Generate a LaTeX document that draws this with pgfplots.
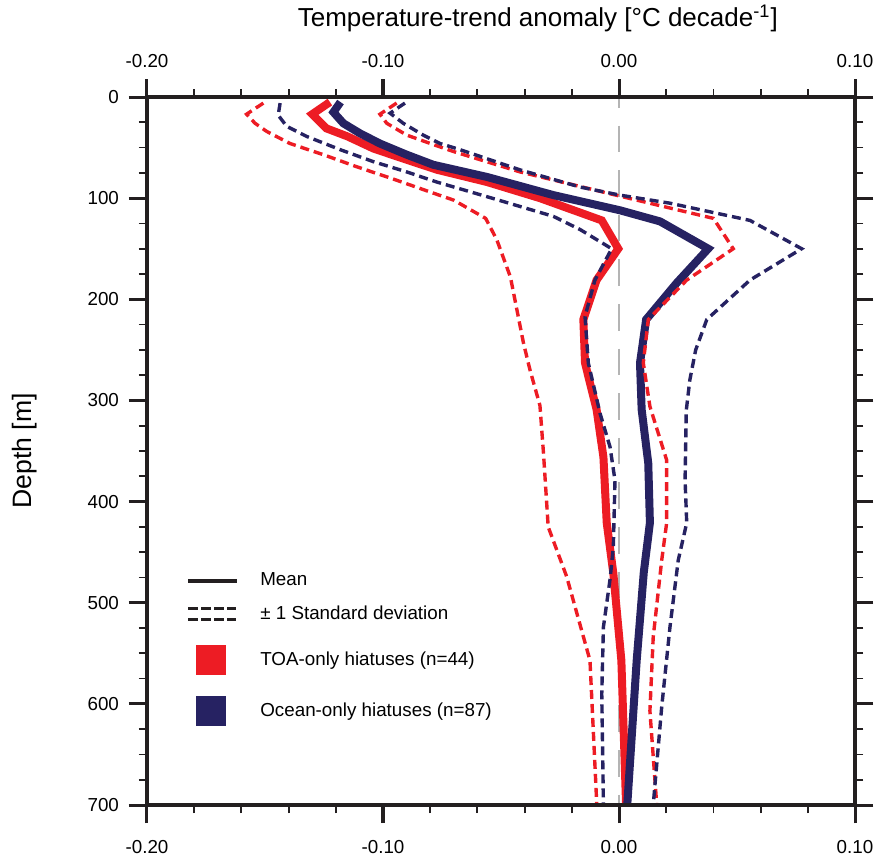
\documentclass[border=0pt]{standalone}
\usepackage{fontspec}
\setmainfont{Liberation Sans}
\usepackage{pgfplots}
\pgfplotsset{compat=1.18}
\definecolor{tred}{RGB}{237,28,36}
\definecolor{tnavy}{RGB}{38,34,98}
\definecolor{zgray}{RGB}{180,180,180}
\definecolor{axblack}{RGB}{35,31,32}

\pgfplotsset{
  base/.style={
    at={(0pt,0pt)}, anchor=south west,
    scale only axis, width=354pt, height=354pt,
    xmin=-0.2, xmax=0.1, ymin=0, ymax=700, y dir=reverse,
    xtick={-0.2,-0.1,0,0.1}, minor x tick num=4,
    ytick={0,100,...,700}, minor y tick num=3,
    tick align=outside, major tick length=9pt, minor tick length=4pt,
    axis line style={line width=1.75pt, axblack},
    major tick style={line width=1.5pt, axblack},
    minor tick style={line width=0.9pt, axblack},
    /pgf/number format/assume math mode=true,
    tick label style={font=\fontsize{9.4}{11}\selectfont},
    xticklabel style={/pgf/number format/.cd, fixed, fixed zerofill, precision=2},
    yticklabel style={/pgf/number format/.cd, fixed, precision=0},
    yticklabel shift=1.5pt,
  }
}

\begin{document}
\begin{tikzpicture}
\path[use as bounding box] (-73.5pt,-28pt) rectangle (365.5pt,402.5pt);
\begin{axis}[base,
  xticklabel pos=lower, xticklabel shift=5pt,
  title={Temperature-trend anomaly [°C decade\textsuperscript{-1}]},
  every axis title/.style={at={(axis description cs:0.552,1)}, anchor=base, yshift=35.2pt,
    font=\fontsize{13}{15}\selectfont},
  ylabel={Depth [m]},
  every axis y label/.style={at={(axis description cs:-0.1723,0.5)}, rotate=90, anchor=center,
    font=\fontsize{13.3}{15}\selectfont},
  legend style={at={(axis description cs:0.0561,0.3305)}, anchor=north west,
    draw=none, fill=none, inner sep=0pt, outer sep=0pt, row sep=0pt, column sep=0pt,
    nodes={inner sep=0pt, font=\fontsize{9.4}{11}\selectfont}},
  legend cell align=left,
]
% zero line
\addplot[zgray, line width=1pt, dash pattern=on 13.3pt off 9pt, dash phase=8pt, forget plot]
  coordinates {(0,0) (0,700)};

% TOA-only mean (red)
\addplot[tred, line width=4pt, forget plot] coordinates {
(-0.1225,5) (-0.130,17) (-0.124,31) (-0.115,39) (-0.104,51) (-0.090,62) (-0.077,72)
(-0.056,84) (-0.0335,100) (-0.0073,122) (-0.0003,150) (-0.0095,181) (-0.0151,220)
(-0.0144,263) (-0.0095,309) (-0.0066,356) (-0.0052,421) (-0.0024,471) (0.001,557) (0.003,700)};

% Ocean-only mean (navy)
\addplot[tnavy, line width=4pt, forget plot] coordinates {
(-0.118,5) (-0.121,15) (-0.1168,26) (-0.1097,36) (-0.1013,46) (-0.090,57) (-0.0787,67)
(-0.056,79) (-0.0278,97) (0.0004,112) (0.0174,123) (0.0378,150) (0.0244,184) (0.0115,220)
(0.0089,263) (0.0096,309) (0.0124,362) (0.0131,421) (0.0105,470) (0.0075,557) (0.0035,700)};

% TOA +1 sd
\addplot[tred, line width=1.7pt, dash pattern=on 4.5pt off 2.5pt, forget plot] coordinates {
(-0.0942,6) (-0.1013,17) (-0.0984,26) (-0.090,37.6) (-0.0787,47) (-0.070,54) (-0.042,74)
(0.0004,98) (0.040,120) (0.0484,150) (0.0287,181) (0.0124,220) (0.0103,263) (0.0131,306)
(0.0202,359) (0.0202,421) (0.0181,458) (0.0145,534) (0.0131,607) (0.016,700)};

% TOA -1 sd
\addplot[tred, line width=1.7pt, dash pattern=on 4.5pt off 2.5pt, forget plot] coordinates {
(-0.1507,6) (-0.1578,17) (-0.1542,26) (-0.1493,34) (-0.1394,46) (-0.1253,57) (-0.1111,69)
(-0.097,80) (-0.0787,95) (-0.070,102) (-0.0565,120) (-0.0518,141) (-0.046,178) (-0.0405,243)
(-0.0377,270) (-0.0335,305) (-0.032,352) (-0.030,425) (-0.0222,474) (-0.0123,557) (-0.0094,700)};

% Ocean +1 sd
\addplot[tnavy, line width=1.7pt, dash pattern=on 4.5pt off 2.5pt, forget plot] coordinates {
(-0.0907,6) (-0.097,16) (-0.0914,26) (-0.083,37.6) (-0.0758,46) (-0.0674,52) (-0.042,72)
(-0.0165,89) (0.0004,97) (0.0216,105) (0.0555,122) (0.0774,150) (0.0555,181) (0.0372,220)
(0.0325,250) (0.030,280) (0.0285,310) (0.028,379) (0.0287,421) (0.0251,458) (0.0216,524)
(0.0181,603) (0.0145,700)};

% Ocean -1 sd
\addplot[tnavy, line width=1.7pt, dash pattern=on 4.5pt off 2.5pt, forget plot] coordinates {
(-0.1436,6) (-0.1444,18) (-0.1408,29) (-0.1323,39) (-0.1182,52) (-0.104,64) (-0.090,74)
(-0.0773,84) (-0.056,98.5) (-0.0278,118) (-0.0165,131) (-0.0031,150) (-0.0102,181)
(-0.0144,217) (-0.013,263) (-0.008,313) (-0.0038,346) (-0.0017,379) (-0.0024,445)
(-0.0038,477) (-0.0066,524) (-0.0073,590) (-0.0066,700)};

\addlegendimage{legend image code/.code={
  \path[draw=none, fill=none] (0pt,-5pt) rectangle (36pt,5pt);
  \draw[axblack, line width=1.6pt, solid] (0pt,0pt) -- (24.2pt,0pt);}}
\addlegendentry{Mean}
\addlegendimage{legend image code/.code={
  \path[draw=none, fill=none] (0pt,-11.5pt) rectangle (36pt,11.5pt);
  \draw[axblack, line width=1.5pt, dash pattern=on 4.6pt off 1.9pt] (0pt,2.7pt) -- (24pt,2.7pt);
  \draw[axblack, line width=1.5pt, dash pattern=on 4.6pt off 1.9pt] (0pt,-2.7pt) -- (24pt,-2.7pt);}}
\addlegendentry{± 1 Standard deviation}
\addlegendimage{legend image code/.code={
  \path[draw=none, fill=none] (0pt,-11.5pt) rectangle (36pt,11.5pt);
  \fill[tred, draw=none] (3.7pt,-7.4pt) rectangle (18.7pt,7.4pt);}}
\addlegendentry{TOA-only hiatuses (n=44)}
\addlegendimage{legend image code/.code={
  \path[draw=none, fill=none] (0pt,-14pt) rectangle (36pt,14pt);
  \fill[tnavy, draw=none] (3.7pt,-7.4pt) rectangle (18.7pt,7.4pt);}}
\addlegendentry{Ocean-only hiatuses (n=87)}
\end{axis}
\begin{axis}[base, xticklabel pos=upper, xticklabel shift=2pt, yticklabels={}]
\end{axis}
\end{tikzpicture}
\end{document}
